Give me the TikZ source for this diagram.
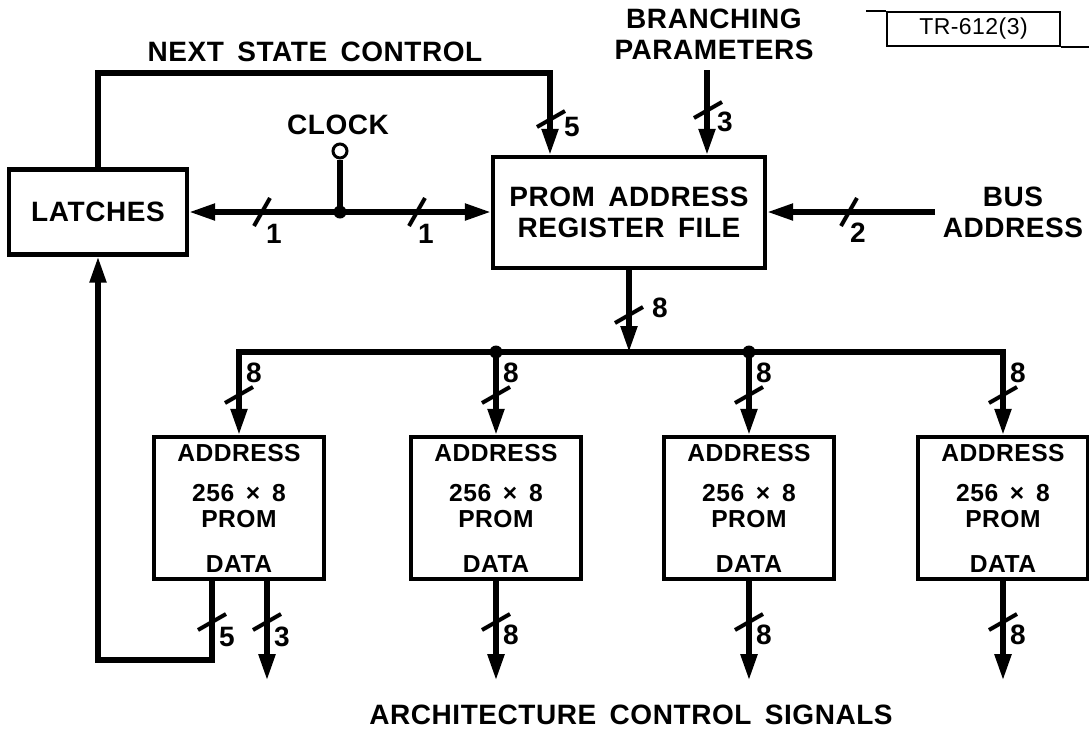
\documentclass[tikz,border=0pt]{standalone}
\usepackage{fontspec}
\setmainfont[LetterSpace=2, WordSpace=1.6]{Liberation Sans}
\usetikzlibrary{arrows.meta}

\begin{document}
\begin{tikzpicture}[x=0.5pt, y=-0.5pt,
    font=\fontsize{14}{15.5}\selectfont\bfseries,
    blk/.style={draw, line width=2.2pt, inner sep=0pt},
    prom/.style={blk, minimum width=85pt, minimum height=71pt, align=center,
        font=\fontsize{12.3}{13}\selectfont\bfseries},
    wire/.style={line width=2.6pt},
    arr/.style={wire, -{Triangle[length=13pt, width=8pt]}},
    cut/.style={line width=2pt},
    dot/.style={circle, fill, inner sep=0pt, minimum size=6.5pt}]

\useasboundingbox (0,0) rectangle (1089,736);

% blocks
\node[blk, minimum width=89pt, minimum height=42.5pt] (latch) at (98,212) {LATCHES};
\node[blk, minimum width=136pt, minimum height=55.5pt, align=center] (reg) at (629,212.5) {PROM ADDRESS\\REGISTER FILE};
\foreach \n/\x in {1/239, 2/496, 3/749, 4/1003}
    \node[prom] (p\n) at (\x,508) {ADDRESS\\[7pt]256 × 8\\PROM\\[9.5pt]DATA};

% labels
\node (nsctxt) at (315,52) {NEXT STATE CONTROL};
\node (clktxt) at (338,125) {CLOCK};
\node[align=center] (brtxt) at (714,34) {BRANCHING\\PARAMETERS};
\node[align=center] (bustxt) at (1013,212) {BUS\\ADDRESS};
\node (acs) at (631,715) {ARCHITECTURE CONTROL SIGNALS};
\node[draw, line width=1pt, minimum width=86.5pt, minimum height=16pt, font=\fontsize{11.5}{12}\selectfont] (tr) at (973.5,29) {TR-612(3)};
\draw[line width=1pt] (tr.north west) -- ++(-20,0);
\draw[line width=1pt] (tr.south east) -- ++(29,0);

% clock
\node[circle, draw, line width=1.5pt, inner sep=0pt, minimum size=7pt] (clk) at (340,151) {};
\node[dot] (j) at (340,212) {};
\draw[wire] (clk) -- (j.center);
\draw[arr] (j.center) -- (latch.east);
\draw[arr] (j.center) -- (j -| reg.west);

% inputs of the register file
\coordinate (nsc) at (550,73);
\coordinate (br) at (707,70);
\coordinate (ba) at (935,212);
\draw[arr] (latch.north) |- (nsc) -- (nsc |- reg.north);
\draw[arr] (br) -- (br |- reg.north);
\draw[arr] (ba) -- (ba -| reg.east);

% address bus
\coordinate (bus) at (629,352);
\draw[arr] (reg.south) -- (bus);
\draw[arr] (bus) -| (p1.north);
\draw[arr] (bus) -| (p4.north);
\node[dot] (d2) at (p2.north |- bus) {};
\node[dot] (d3) at (p3.north |- bus) {};
\draw[arr] (d2.center) -- (p2.north);
\draw[arr] (d3.center) -- (p3.north);

% outputs
\coordinate (o5) at ([xshift=-13.5pt]p1.south);
\coordinate (o3) at ([xshift=14pt]p1.south);
\coordinate (lp) at (98,660);
\draw[arr] (o5) |- (lp) -- (latch.south);
\draw[arr] (o3) -- ++(0,99) coordinate (t1);
\foreach \n in {2,3,4}
    \draw[arr] (p\n.south) -- ++(0,99) coordinate (t\n);

% bus widths
\foreach \x in {262,417,849}
    \draw[cut] (\x,212) +(-8,14) -- +(8,-14);
\foreach \x/\y in {551/119, 708/110, 629/315, 239/395, 496/395, 749/395, 1003/395,
                   212/622, 267/622, 496/622, 749/622, 1003/622}
    \draw[cut] (\x,\y) +(-14,8) -- +(14,-8);
\node (w1) at (274,234) {1};
\node (w2) at (426,234) {1};
\node (w3) at (858,233) {2};
\node (w4) at (572,127) {5};
\node (w5) at (725,122) {3};
\node (w6) at (660,308) {8};
\foreach \n/\x in {1/239, 2/496, 3/749, 4/1003}
    \node (b\n) at (\x+15,373) {8};
\node (w7) at (227,637) {5};
\node (w8) at (282,637) {3};
\foreach \n/\x in {2/496, 3/749, 4/1003}
    \node (c\n) at (\x+15,635) {8};
\end{tikzpicture}
\end{document}
